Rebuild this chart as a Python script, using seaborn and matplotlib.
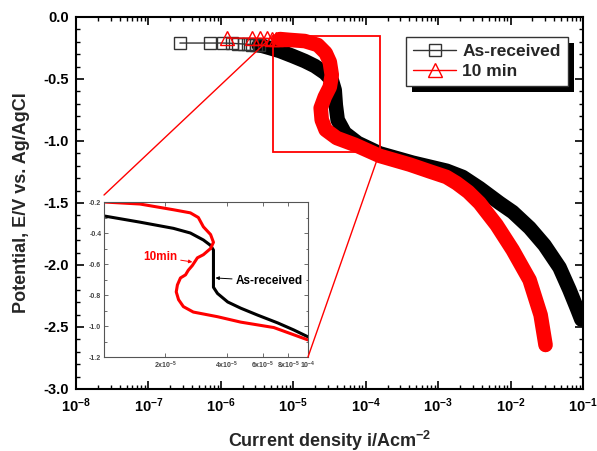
import matplotlib
matplotlib.use("Agg")
import matplotlib.pyplot as plt
import pandas as pd
import seaborn as sns
from matplotlib.lines import Line2D
from matplotlib.patches import Rectangle, ConnectionPatch
from matplotlib.transforms import IdentityTransform
from matplotlib.ticker import FixedLocator, MultipleLocator, NullLocator, LogLocator, NullFormatter

# ---- polarisation data: current density (A/cm^2) vs potential (V vs Ag/AgCl) ----
as_received_current = [
    2.72e-7, 7.05e-7, 1.07e-6, 1.42e-6, 1.72e-6, 2.08e-6, 2.36e-6, 2.68e-6, 3.04e-6, 3.34e-6,
    3.79e-6, 4.74e-6, 6.5e-6, 9.84e-6, 1.44e-5, 1.98e-5, 2.72e-5, 3.4e-5, 3.73e-5, 3.86e-5,
    4.1e-5, 5.13e-5, 7.76e-5, 1.56e-4, 4.45e-4, 1.31e-3, 2.18e-3, 3.73e-3, 7.05e-3, 1.07e-2,
    1.83e-2, 2.94e-2, 4.74e-2, 6.5e-2, 8.4e-2, 9.5e-2]
as_received_potential = [
    -0.21, -0.21, -0.21, -0.212, -0.215, -0.218, -0.22, -0.222, -0.225, -0.228,
    -0.234, -0.25, -0.274, -0.315, -0.355, -0.395, -0.45, -0.51, -0.59, -0.71,
    -0.83, -0.935, -1.016, -1.10, -1.175, -1.24, -1.29, -1.38, -1.50, -1.573,
    -1.70, -1.84, -2.02, -2.20, -2.36, -2.44]

min10_current = [
    1.21e-6, 2.68e-6, 3.45e-6, 4.31e-6, 5.05e-6, 5.74e-6, 6.52e-6,
    8.95e-6, 1.44e-5, 2.18e-5, 2.8e-5, 3.19e-5, 3.4e-5, 3.19e-5, 2.72e-5, 2.39e-5, 2.47e-5,
    2.8e-5, 3.98e-5, 7.05e-5, 1.56e-4, 4.05e-4, 7.64e-4, 1.3e-3, 1.8e-3, 2.6e-3, 3.73e-3,
    6.41e-3, 1.07e-2, 1.83e-2, 2.6e-2, 3.04e-2]
min10_potential = [
    -0.17, -0.17, -0.17, -0.172, -0.174, -0.176, -0.178,
    -0.185, -0.194, -0.226, -0.29, -0.363, -0.468, -0.565, -0.645, -0.734, -0.83,
    -0.91, -0.976, -1.03, -1.12, -1.19, -1.245, -1.29, -1.34, -1.41, -1.50,
    -1.677, -1.879, -2.121, -2.403, -2.645]

# index where the recorded points become dense enough to merge into a band
AR_BAND_FROM = 10
MIN10_BAND_FROM = 7

# magnified window (inset)
inset_ar_current = [1e-5, 1.5e-5, 2.19e-5, 2.65e-5, 3.07e-5, 3.33e-5, 3.44e-5, 3.44e-5, 3.44e-5,
                    3.44e-5, 3.6e-5, 4.04e-5, 4.68e-5, 5.67e-5, 7.1e-5, 8.5e-5, 1e-4]
inset_ar_potential = [-0.29, -0.33, -0.37, -0.40, -0.445, -0.48, -0.51, -0.575, -0.66,
                      -0.75, -0.79, -0.845, -0.885, -0.93, -0.98, -1.025, -1.07]
inset_10_current = [1e-5, 1.5e-5, 2.19e-5, 2.65e-5, 2.9e-5, 3.07e-5, 3.33e-5, 3.44e-5, 3.33e-5,
                    3.07e-5, 2.87e-5, 2.71e-5, 2.59e-5, 2.51e-5, 2.37e-5, 2.29e-5, 2.26e-5,
                    2.32e-5, 2.45e-5, 2.74e-5, 3.6e-5, 4.68e-5, 6.8e-5, 1e-4]
inset_10_potential = [-0.2, -0.213, -0.25, -0.27, -0.30, -0.36, -0.41, -0.46, -0.50,
                      -0.54, -0.56, -0.61, -0.64, -0.67, -0.69, -0.735, -0.78,
                      -0.83, -0.875, -0.91, -0.94, -0.975, -1.01, -1.09]

x_decades = [1e-8, 1e-7, 1e-6, 1e-5, 1e-4, 1e-3, 1e-2, 1e-1]
x_decade_labels = [r"$\mathbf{10^{-8}}$", r"$\mathbf{10^{-7}}$", r"$\mathbf{10^{-6}}$",
                   r"$\mathbf{10^{-5}}$", r"$\mathbf{10^{-4}}$", r"$\mathbf{10^{-3}}$",
                   r"$\mathbf{10^{-2}}$", r"$\mathbf{10^{-1}}$"]
inset_xticks = [2e-5, 4e-5, 6e-5, 8e-5, 1e-4]
inset_xlabels = [r"2x10$^{-5}$", r"4x10$^{-5}$", r"6x10$^{-5}$", r"8x10$^{-5}$", r"10$^{-4}$"]
zoom_current = (5.2e-6, 1.56e-4)
zoom_potential = (-1.09, -0.153)

sns.set_theme(style="ticks")
plt.rcParams["font.family"] = ["Liberation Sans", "DejaVu Sans"]
plt.rcParams["mathtext.fontset"] = "custom"
plt.rcParams["mathtext.rm"] = "Liberation Sans"
plt.rcParams["mathtext.bf"] = "Liberation Sans:bold"
plt.rcParams["mathtext.default"] = "bf"

fig = plt.figure(figsize=(5.97, 4.51), dpi=100)
fig.patch.set_facecolor("white")
ax = fig.add_axes([76 / 597, 1 - 389 / 451, 507 / 597, 372 / 451])
ax.set_xscale("log")

df_ar = pd.DataFrame({"current": as_received_current, "potential": as_received_potential})
df_10 = pd.DataFrame({"current": min10_current, "potential": min10_potential})

# sparse start of each scan: open markers on a thin line;
# dense remainder: overlapping markers merge into a wide band
sns.lineplot(data=df_ar.iloc[AR_BAND_FROM - 1:], x="current", y="potential", sort=False,
             estimator=None, color="black", lw=10.5, solid_joinstyle="round",
             solid_capstyle="round", ax=ax, zorder=2)
sns.lineplot(data=df_ar.iloc[:AR_BAND_FROM], x="current", y="potential", sort=False,
             estimator=None, color="#333333", lw=1, marker="s", markersize=8,
             markerfacecolor="none", markeredgecolor="#333333", markeredgewidth=1,
             ax=ax, zorder=2.1)
sns.lineplot(data=df_10.iloc[MIN10_BAND_FROM - 1:], x="current", y="potential", sort=False,
             estimator=None, color="red", lw=10.5, solid_joinstyle="round",
             solid_capstyle="round", ax=ax, zorder=3)
sns.lineplot(data=df_10.iloc[:MIN10_BAND_FROM], x="current", y="potential", sort=False,
             estimator=None, color="red", lw=1, marker="^", markersize=10,
             markerfacecolor="none", markeredgecolor="red", markeredgewidth=1,
             ax=ax, zorder=3.1)

ax.set_xlim(1e-8, 1e-1)
ax.set_ylim(-3.0, 0.0)
ax.xaxis.set_major_locator(FixedLocator(x_decades))
ax.set_xticklabels(x_decade_labels)
ax.xaxis.set_minor_locator(LogLocator(base=10, subs=range(2, 10), numticks=20))
ax.xaxis.set_minor_formatter(NullFormatter())
ax.yaxis.set_minor_locator(MultipleLocator(0.1))
ax.set_yticks([0.0, -0.5, -1.0, -1.5, -2.0, -2.5, -3.0])
ax.set_yticklabels(["0.0", "-0.5", "-1.0", "-1.5", "-2.0", "-2.5", "-3.0"])
ax.tick_params(which="both", direction="in", top=True, right=True, colors="black",
               labelsize=10.5)
ax.tick_params(which="major", length=6, width=1.2, pad=5)
ax.tick_params(which="minor", length=3, width=1)
for lab in ax.get_xticklabels() + ax.get_yticklabels():
    lab.set_fontweight("bold")
for s in ax.spines.values():
    s.set_linewidth(1.5)
    s.set_color("black")
ax.set_xlabel("Current density i/Acm$^{-2}$", fontsize=13, fontweight="bold", labelpad=10)
ax.set_ylabel("Potential, E/V vs. Ag/AgCl", fontsize=13, fontweight="bold", labelpad=10)

# zoom window
ax.add_patch(Rectangle((zoom_current[0], zoom_potential[0]), zoom_current[1] - zoom_current[0],
                       zoom_potential[1] - zoom_potential[0], fill=False, ec="red", lw=1.3,
                       zorder=5))

handles = [Line2D([], [], color="#333333", lw=1, marker="s", ms=8.5, mfc="none",
                  mec="#333333", mew=1),
           Line2D([], [], color="red", lw=1, marker="^", ms=10.5, mfc="none", mec="red", mew=1)]
leg = ax.legend(handles, ["As-received", "10 min"], loc="upper right",
                bbox_to_anchor=(0.970, 0.946), borderaxespad=0, frameon=True, fancybox=False,
                edgecolor="#333333", framealpha=1, prop=dict(weight="bold", size=12.5),
                handlelength=2.5, handletextpad=0.35, borderpad=0.4, labelspacing=0.25)
leg.get_frame().set_linewidth(1.0)
leg.set_zorder(6)

# inset
axins = fig.add_axes([104 / 597, 1 - 357 / 451, 204 / 597, 155 / 451])
axins.set_xscale("log")
sns.lineplot(x=inset_ar_current, y=inset_ar_potential, sort=False, estimator=None,
             color="black", lw=2.2, ax=axins)
sns.lineplot(x=inset_10_current, y=inset_10_potential, sort=False, estimator=None,
             color="red", lw=2.2, ax=axins)
axins.set_xlim(1e-5, 1e-4)
axins.set_ylim(-1.2, -0.2)
axins.xaxis.set_major_locator(FixedLocator(inset_xticks))
axins.set_xticklabels(inset_xlabels)
axins.xaxis.set_minor_locator(NullLocator())
axins.yaxis.set_minor_locator(MultipleLocator(0.1))
axins.set_yticks([-0.2, -0.4, -0.6, -0.8, -1.0, -1.2])
axins.set_yticklabels(["-0.2", "-0.4", "-0.6", "-0.8", "-1.0", "-1.2"])
axins.tick_params(which="both", direction="in", top=True, right=True, colors="#555555",
                  labelsize=5, labelcolor="#444444", width=0.6, pad=2)
axins.tick_params(which="major", length=3)
axins.tick_params(which="minor", length=1.8)
for lab in axins.get_xticklabels() + axins.get_yticklabels():
    lab.set_fontweight("bold")
for s in axins.spines.values():
    s.set_linewidth(0.8)
    s.set_color("#555555")
axins.set_xlabel("")
axins.set_ylabel("")

axins.annotate("10min", xy=(2.71e-5, -0.587), xytext=(1.89e-5, -0.555), color="red",
               fontsize=8.5, fontweight="bold", ha="center", va="center",
               arrowprops=dict(arrowstyle="-|>", color="red", lw=0.7, mutation_scale=5,
                               shrinkA=0, shrinkB=0))
axins.annotate("As-received", xy=(3.52e-5, -0.69), xytext=(6.43e-5, -0.71), color="black",
               fontsize=8.5, fontweight="bold", ha="center", va="center",
               arrowprops=dict(arrowstyle="-|>", color="black", lw=0.7, mutation_scale=5,
                               shrinkA=0, shrinkB=0))

for xyA, xyB in [((zoom_current[0], zoom_potential[1]), (0, 1.045)),
                 ((zoom_current[1], zoom_potential[0]), (1, 0))]:
    con = ConnectionPatch(xyA=xyA, coordsA=ax.transData, xyB=xyB, coordsB=axins.transAxes,
                          color="red", lw=1.0)
    fig.add_artist(con)

# legend drop shadow
fig.canvas.draw()
bb = leg.get_window_extent(fig.canvas.get_renderer())
ax.add_artist(Rectangle((bb.x0 + 6, bb.y0 - 6), bb.width, bb.height, transform=IdentityTransform(),
                        fc="black", ec="none", zorder=5.5, clip_on=False))

fig.savefig("out.png", dpi=100)
